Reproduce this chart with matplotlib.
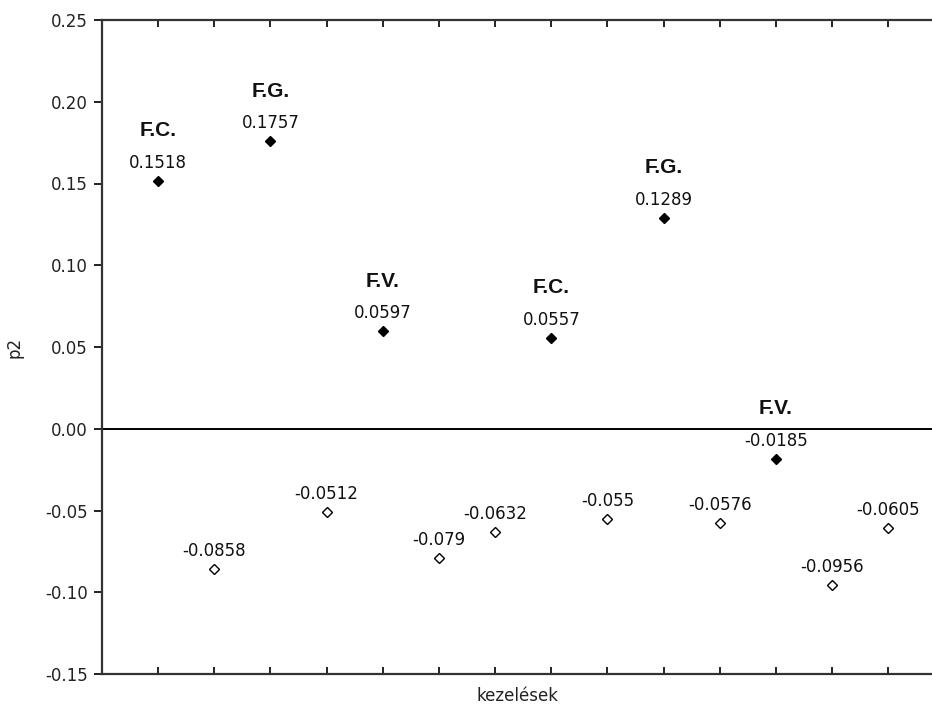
import matplotlib
matplotlib.use("Agg")
import matplotlib.pyplot as plt
import numpy as np

plt.rcParams["axes.unicode_minus"] = False
plt.rcParams["font.family"] = "DejaVu Sans"

# treatment positions along the x axis and their p2 scores
positions = list(range(1, 15))
p2_values = [0.1518, -0.0858, 0.1757, -0.0512, 0.0597, -0.079, -0.0632,
             0.0557, -0.055, 0.1289, -0.0576, -0.0185, -0.0956, -0.0605]
value_labels = ["0.1518", "-0.0858", "0.1757", "-0.0512", "0.0597", "-0.079",
                "-0.0632", "0.0557", "-0.055", "0.1289", "-0.0576", "-0.0185",
                "-0.0956", "-0.0605"]
# highlighted treatments (filled markers) and their group names
group_names = ["F.C.", "", "F.G.", "", "F.V.", "", "", "F.C.", "", "F.G.", "",
               "F.V.", "", ""]

y_ticks = [-0.15, -0.10, -0.05, 0.00, 0.05, 0.10, 0.15, 0.20, 0.25]

fig = plt.figure(figsize=(9.32, 7.11), dpi=100)
ax = fig.add_axes([102 / 932, 37 / 711, 1 - 102 / 932, (674 - 20) / 711])

ax.axhline(0, color="black", lw=1.4, zorder=1)

for x, y, lab, grp in zip(positions, p2_values, value_labels, group_names):
    filled = grp != ""
    ax.plot(x, y, marker="D", markersize=5.2,
            markerfacecolor="black" if filled else "white",
            markeredgecolor="black", markeredgewidth=1.0, linestyle="none",
            zorder=3)
    ax.annotate(lab, (x, y), xytext=(0, 13), textcoords="offset points",
                ha="center", va="center", fontsize=12, color="#111111")
    if filled:
        ax.annotate(grp, (x, y), xytext=(0, 36), textcoords="offset points",
                    ha="center", va="center", fontsize=15, fontweight="bold",
                    family="Liberation Sans", color="#111111")

ax.set_xlim(0, 14.78)
ax.set_ylim(-0.15, 0.25)
ax.set_yticks(y_ticks)
ax.set_yticklabels([f"{t:.2f}" for t in y_ticks])
ax.set_xticks(positions)
ax.set_xticklabels([])

ax.tick_params(axis="y", direction="out", length=6, width=1.4, labelsize=12,
               pad=4, colors="#222222")
ax.tick_params(axis="x", direction="in", length=5, width=1.4, top=True,
               bottom=True, colors="#222222")

for side in ("left", "bottom", "top"):
    ax.spines[side].set_linewidth(1.6)
    ax.spines[side].set_color("#333333")
ax.spines["right"].set_visible(False)

ax.set_ylabel("p2", fontsize=12, labelpad=16, color="#222222")
ax.set_xlabel("kezelések", fontsize=12, labelpad=6, color="#222222")

fig.savefig("out.png", dpi=100)
